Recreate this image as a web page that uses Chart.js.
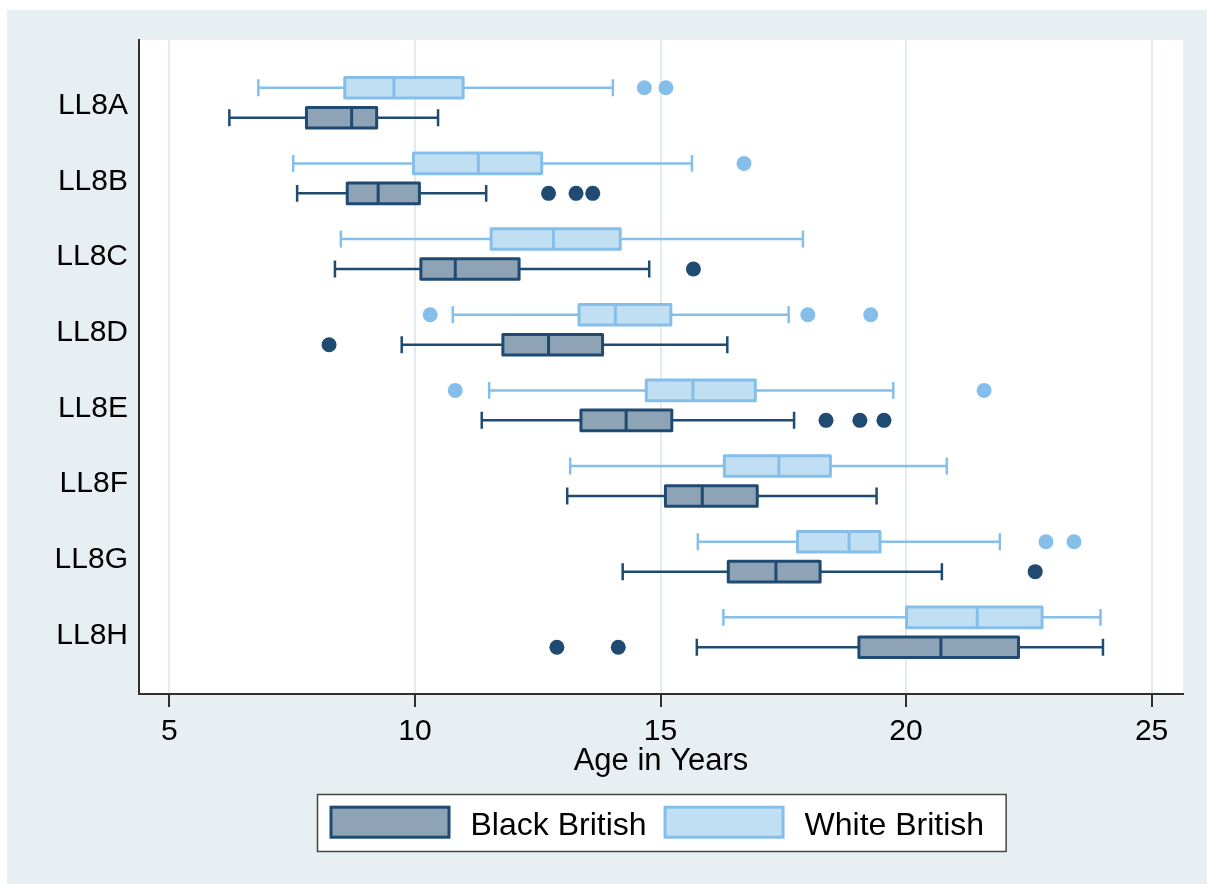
<!DOCTYPE html>
<html>
<head>
<meta charset="utf-8">
<title>Age in Years by group</title>
<script src="https://cdn.jsdelivr.net/npm/chart.js@4/dist/chart.umd.min.js"></script>
<style>
  html, body { margin: 0; padding: 0; background: #ffffff; }
  canvas { display: block; }
</style>
</head>
<body>
<canvas id="chart" width="1207" height="884"></canvas>
<script>
// Milestone categories (one row each)
const categories = ['LL8A', 'LL8B', 'LL8C', 'LL8D', 'LL8E', 'LL8F', 'LL8G', 'LL8H'];

// Black British: whisker ends, quartiles, median, outliers (years)
const blackMin = [6.22, 7.60, 8.37, 9.73, 11.36, 13.10, 14.23, 15.74];
const blackQ1  = [7.79, 8.62, 10.12, 11.79, 13.38, 15.10, 16.38, 19.04];
const blackMed = [8.71, 9.25, 10.82, 12.72, 14.30, 15.85, 17.35, 20.71];
const blackQ3  = [9.22, 10.09, 12.12, 13.82, 15.23, 16.97, 18.25, 22.29];
const blackMax = [10.47, 11.45, 14.77, 16.36, 17.72, 19.40, 20.73, 24.01];
const blackOut = [[], [12.72, 13.28, 13.62], [15.67], [8.25], [18.37, 19.06, 19.55], [], [22.63], [12.89, 14.14]];

// White British
const whiteMin = [6.81, 7.52, 8.49, 10.77, 11.51, 13.16, 15.76, 16.28];
const whiteQ1  = [8.57, 9.97, 11.55, 13.34, 14.71, 16.30, 17.79, 20.01];
const whiteMed = [9.57, 11.29, 12.82, 14.08, 15.66, 17.41, 18.84, 21.45];
const whiteQ3  = [10.98, 12.58, 14.18, 15.21, 16.93, 18.46, 19.47, 22.77];
const whiteMax = [14.03, 15.64, 17.90, 17.61, 19.74, 20.83, 21.91, 23.96];
const whiteOut = [[14.67, 15.11], [16.70], [], [10.31, 18.00, 19.28], [10.82, 21.59], [], [22.85, 23.42], []];

// x-axis ticks
const xTicks = [5, 10, 15, 20, 25];

const FONT = "'Liberation Sans', Arial, Helvetica, sans-serif";
const BG_OUTER = '#e8eff2';
const GRID = '#e3ebee';
const AXIS = '#303030';

// Each group sits a little above / below the row centre (in row units)
const series = [
  { label: 'Black British', min: blackMin, q1: blackQ1, med: blackMed, q3: blackQ3, max: blackMax, out: blackOut,
    offset: 0.198, fill: '#8fa3b6', stroke: '#1f4a72' },
  { label: 'White British', min: whiteMin, q1: whiteQ1, med: whiteMed, q3: whiteQ3, max: whiteMax, out: whiteOut,
    offset: -0.198, fill: '#c1dff3', stroke: '#85bfe9' }
];

const BOX_HALF = 0.136;  // half box height, row units
const CAP_HALF = 0.112;  // half whisker-cap length, row units

// Outliers become scatter points
const datasets = series.map(s => ({
  label: s.label,
  data: s.out.flatMap((vals, i) => vals.map(v => ({ x: v, y: i + s.offset }))),
  backgroundColor: s.stroke,
  borderWidth: 0,
  pointRadius: 7.5,
  pointHoverRadius: 7.5,
  boxFill: s.fill,
  boxStroke: s.stroke
}));

const backgroundPlugin = {
  id: 'panelBackground',
  beforeDraw(chart) {
    const { ctx, width, height, chartArea: a } = chart;
    ctx.save();
    ctx.fillStyle = '#ffffff';
    ctx.fillRect(0, 0, width, height);
    ctx.fillStyle = BG_OUTER;
    ctx.fillRect(7, 10, width - 7, height - 10);
    ctx.fillStyle = '#ffffff';
    ctx.fillRect(a.left, a.top, a.right - a.left, a.bottom - a.top);
    ctx.restore();
  }
};

// Boxes, medians and whiskers drawn through the chart's scales
const boxPlugin = {
  id: 'boxes',
  beforeDatasetsDraw(chart) {
    const { ctx, scales: { x, y } } = chart;
    ctx.save();
    series.forEach(s => {
      categories.forEach((c, i) => {
        const yc = y.getPixelForValue(i + s.offset);
        const yt = y.getPixelForValue(i + s.offset - BOX_HALF);
        const yb = y.getPixelForValue(i + s.offset + BOX_HALF);
        const ct = y.getPixelForValue(i + s.offset - CAP_HALF);
        const cb = y.getPixelForValue(i + s.offset + CAP_HALF);
        const pMin = x.getPixelForValue(s.min[i]);
        const pQ1 = x.getPixelForValue(s.q1[i]);
        const pMed = x.getPixelForValue(s.med[i]);
        const pQ3 = x.getPixelForValue(s.q3[i]);
        const pMax = x.getPixelForValue(s.max[i]);

        ctx.strokeStyle = s.stroke;
        ctx.lineCap = 'butt';
        // whiskers
        ctx.lineWidth = 2.5;
        ctx.beginPath();
        ctx.moveTo(pMin, yc); ctx.lineTo(pQ1, yc);
        ctx.moveTo(pQ3, yc); ctx.lineTo(pMax, yc);
        ctx.moveTo(pMin, ct); ctx.lineTo(pMin, cb);
        ctx.moveTo(pMax, ct); ctx.lineTo(pMax, cb);
        ctx.stroke();
        // box
        ctx.fillStyle = s.fill;
        ctx.fillRect(pQ1, yt, pQ3 - pQ1, yb - yt);
        ctx.lineWidth = 3;
        ctx.lineJoin = 'round';
        ctx.strokeRect(pQ1, yt, pQ3 - pQ1, yb - yt);
        // median
        ctx.beginPath();
        ctx.moveTo(pMed, yt); ctx.lineTo(pMed, yb);
        ctx.stroke();
      });
    });
    ctx.restore();
  }
};

// Framed legend under the axis title
const legendPlugin = {
  id: 'framedLegend',
  afterDraw(chart) {
    const { ctx, chartArea: a } = chart;
    const items = chart.data.datasets;
    ctx.save();
    ctx.font = '32px ' + FONT;
    const swW = 121, swH = 33, gapText = 20, gapItem = 17, padL = 12, padR = 22;
    let total = padL + padR;
    items.forEach((d, k) => {
      total += swW + gapText + ctx.measureText(d.label).width;
      if (k < items.length - 1) total += gapItem;
    });
    const cx = (a.left + a.right) / 2;
    const left = Math.round(cx - total / 2) + 0.5;
    const top = 794.5, h = 57;
    ctx.fillStyle = '#ffffff';
    ctx.fillRect(left, top, total, h);
    ctx.strokeStyle = '#444444';
    ctx.lineWidth = 1.5;
    ctx.strokeRect(left, top, total, h);

    let xp = left + padL;
    items.forEach(d => {
      ctx.fillStyle = d.boxFill;
      ctx.fillRect(xp + 1.5, 807.2, swW - 3, swH - 3);
      ctx.strokeStyle = d.boxStroke;
      ctx.lineWidth = 3;
      ctx.strokeRect(xp + 1.5, 807.2, swW - 3, swH - 3);
      xp += swW + gapText;
      ctx.fillStyle = '#000000';
      ctx.textBaseline = 'alphabetic';
      ctx.textAlign = 'left';
      ctx.fillText(d.label, xp, 834.5);
      xp += ctx.measureText(d.label).width + gapItem;
    });
    ctx.restore();
  }
};

new Chart(document.getElementById('chart'), {
  type: 'scatter',
  data: { datasets },
  options: {
    responsive: false,
    animation: false,
    devicePixelRatio: 1,
    layout: { padding: { top: 40, left: 0, right: 24, bottom: 100 } },
    plugins: {
      legend: { display: false },
      tooltip: { enabled: false }
    },
    scales: {
      x: {
        type: 'linear',
        min: 4.38,
        max: 25.64,
        afterFit(scale) { scale.height = 90; },
        afterBuildTicks(scale) { scale.ticks = xTicks.map(v => ({ value: v })); },
        ticks: {
          includeBounds: false,
          padding: 7,
          color: '#000000',
          font: { family: FONT, size: 30 }
        },
        grid: {
          color: GRID,
          lineWidth: 2,
          drawTicks: true,
          tickLength: 13,
          tickColor: AXIS,
          tickWidth: 2
        },
        border: { display: true, color: AXIS, width: 2 },
        title: {
          display: true,
          text: 'Age in Years',
          color: '#000000',
          font: { family: FONT, size: 31 },
          padding: { top: 0, bottom: 4 }
        }
      },
      y: {
        type: 'linear',
        reverse: true,
        min: -0.829,
        max: 7.815,
        afterFit(scale) { scale.width = 139; },
        ticks: {
          stepSize: 1,
          includeBounds: false,
          padding: 11,
          labelOffset: 3,
          color: '#000000',
          font: { family: FONT, size: 30 },
          callback: v => categories[v] ?? ''
        },
        grid: { display: false, drawTicks: false },
        border: { display: true, color: AXIS, width: 2 }
      }
    }
  },
  plugins: [backgroundPlugin, boxPlugin, legendPlugin]
});
</script>
</body>
</html>
